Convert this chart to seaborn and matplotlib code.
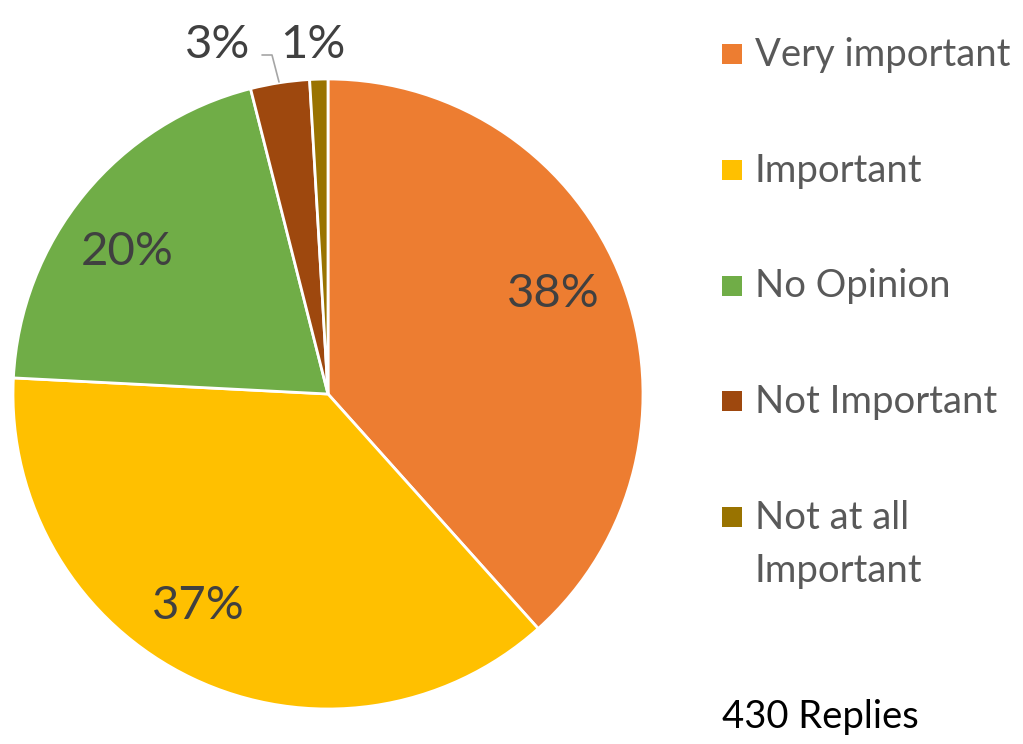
import matplotlib
matplotlib.use("Agg")
import matplotlib.pyplot as plt
import seaborn as sns
import numpy as np
from matplotlib.patches import Rectangle

categories = ["Very important", "Important", "No Opinion", "Not Important", "Not at all\nImportant"]
replies = [165, 161, 87, 13, 4]
pct_labels = ["38%", "37%", "20%", "3%", "1%"]
colors = ["#ED7D31", "#FFC000", "#70AD47", "#9E480E", "#997300"]
total_text = "430 Replies"

sns.set_theme(style="white")
plt.rcParams["font.family"] = ["Lato", "DejaVu Sans"]

W, H = 1023, 744
fig = plt.figure(figsize=(W / 100, H / 100), dpi=100)
cx, cy, r = 328, 394, 315
m = 1.02
ax = fig.add_axes([(cx - r * m) / W, (H - cy - r * m) / H, 2 * r * m / W, 2 * r * m / H])

wedges, texts = ax.pie(replies, colors=colors, startangle=90, counterclock=False,
                       radius=1, labels=pct_labels, labeldistance=0.78,
                       wedgeprops=dict(edgecolor="white", linewidth=2),
                       textprops=dict(fontsize=34, color="#404040", ha="center", va="center"))
ax.set_xlim(-m, m)
ax.set_ylim(-m, m)
ax.set_aspect("equal")
ax.axis("off")

def to_data(px, py):
    return ((px - cx) / r, (cy - py) / r)

# label placement (pixel layout positions as in the reference)
label_px = [(553, 294), (198, 606), (127, 252), (218, 45), (313, 45)]
for t, (px, py) in zip(texts, label_px):
    t.set_position(to_data(px, py))

lx, ly = zip(to_data(262, 55), to_data(272, 55), to_data(279, 82))
ax.plot(lx, ly, color="#A6A6A6", lw=1.2, clip_on=False)

# legend (manual layout to keep square aligned with first line)
def fy(py):
    return 1 - py / H

row_step = 115.75
line_step = 53
for i, (cat, col) in enumerate(zip(categories, colors)):
    base = 66 + i * row_step
    sq = 20
    fig.add_artist(Rectangle((722 / W, fy(base - 12 + sq / 2)), sq / W, sq / H,
                             facecolor=col, edgecolor="none", transform=fig.transFigure))
    for j, line in enumerate(cat.split("\n")):
        fig.text(755 / W, fy(base + j * line_step), line, fontsize=27.5, color="#595959",
                 va="baseline", ha="left")

fig.text(722 / W, fy(728), total_text, fontsize=27.5, color="black", va="baseline", ha="left")

fig.savefig("out.png", dpi=100, facecolor="white")
